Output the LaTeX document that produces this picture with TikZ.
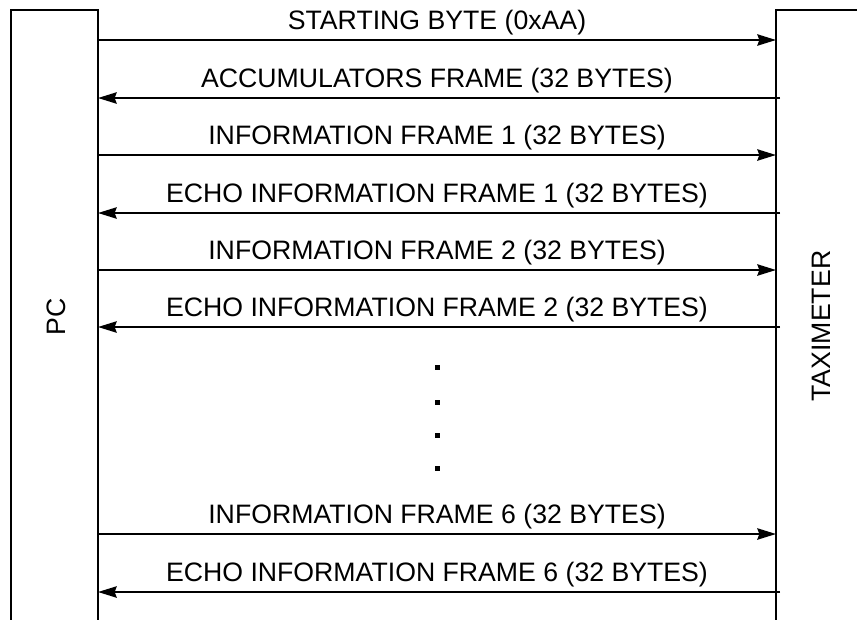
\documentclass[tikz,border=0pt]{standalone}
\usepackage{fontspec}
\setmainfont{Liberation Sans}
\usetikzlibrary{arrows.meta}
\begin{document}
\begin{tikzpicture}[x=0.75pt,y=-0.75pt,line width=1.5pt,
  msg/.style={-{Stealth[length=14pt,width=8.5pt,inset=1.5pt]}},
  lbl/.style={font=\fontsize{20}{24}\selectfont,inner sep=0pt,anchor=base},
  side/.style={font=\fontsize{20}{24}\selectfont,inner sep=0pt,rotate=90},
  dotsq/.style={fill=black,minimum size=3.75pt,inner sep=0pt}]
\useasboundingbox (0,0) rectangle (857,619);
% lifeline boxes
\coordinate (pcBL) at (11,625);
\coordinate (pcTL) at (11,10);
\coordinate (pcTR) at (98,10);
\coordinate (pcBR) at (98,625);
\coordinate (txBL) at (776,625);
\coordinate (txTL) at (776,10);
\coordinate (txTR) at (860,10);
\draw (pcBL) -- (pcTL) -- (pcTR) -- (pcBR);
\draw (txBL) -- (txTL) -- (txTR);
\node[side] (pc) at (56,317) {PC};
\node[side] (taxi) at (821,326) {TAXIMETER};
% message end points
\foreach \n/\y in {1/40,2/98,3/155,4/213,5/270,6/327,7/534,8/592}{
  \coordinate (L\n) at (98,\y);
  \coordinate (R\n) at (776,\y);
  \coordinate (S\n) at (780,\y);
}
\draw[msg] (L1) -- (R1);
\draw[msg] (S2) -- (L2);
\draw[msg] (L3) -- (R3);
\draw[msg] (S4) -- (L4);
\draw[msg] (L5) -- (R5);
\draw[msg] (S6) -- (L6);
\draw[msg] (L7) -- (R7);
\draw[msg] (S8) -- (L8);
\node[lbl] (t1) at (437,29) {STARTING BYTE (0xAA)};
\node[lbl] (t2) at (437,87) {ACCUMULATORS FRAME (32 BYTES)};
\node[lbl] (t3) at (437,144) {INFORMATION FRAME 1 (32 BYTES)};
\node[lbl] (t4) at (437,202) {ECHO INFORMATION FRAME 1 (32 BYTES)};
\node[lbl] (t5) at (437,259) {INFORMATION FRAME 2 (32 BYTES)};
\node[lbl] (t6) at (437,316) {ECHO INFORMATION FRAME 2 (32 BYTES)};
\node[lbl] (t7) at (437,523) {INFORMATION FRAME 6 (32 BYTES)};
\node[lbl] (t8) at (437,581) {ECHO INFORMATION FRAME 6 (32 BYTES)};
\node[dotsq] (d1) at (437,367) {};
\node[dotsq] (d2) at (437,402) {};
\node[dotsq] (d3) at (437,435) {};
\node[dotsq] (d4) at (437,468) {};
\end{tikzpicture}
\end{document}
